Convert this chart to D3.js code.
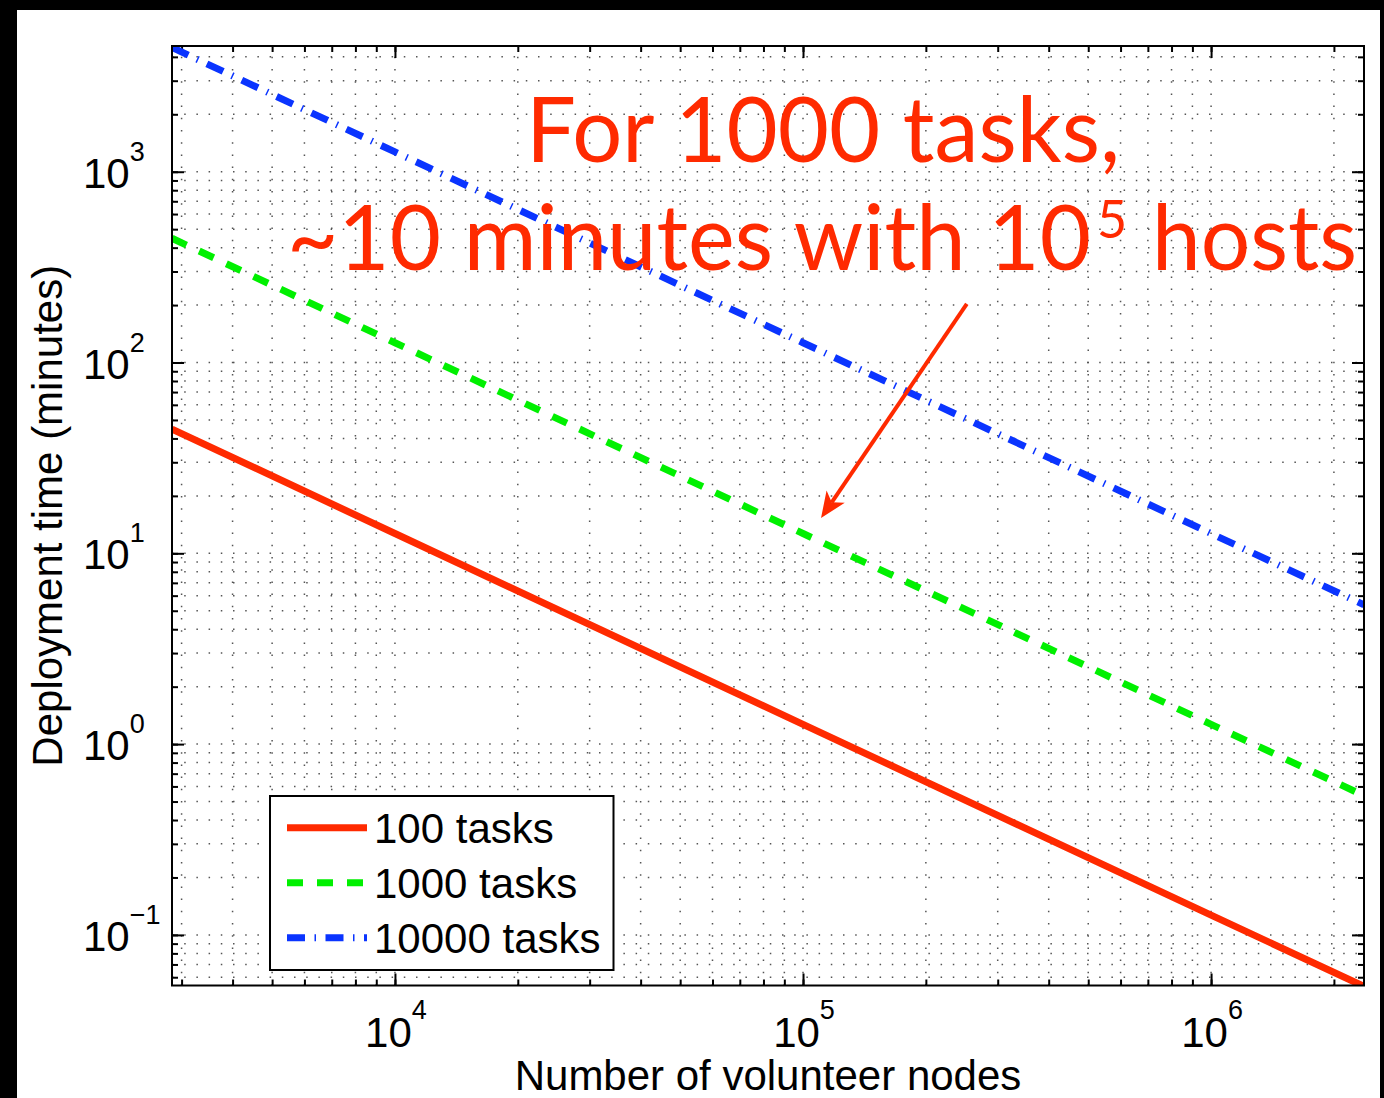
<!DOCTYPE html>
<html>
<head>
<meta charset="utf-8">
<script src="https://cdnjs.cloudflare.com/ajax/libs/d3/7.8.5/d3.min.js"></script>
<style>
  body { margin: 0; background: #000; }
  svg { display: block; }
</style>
</head>
<body>
<div id="vis"></div>
<script>
// values (deployment time in minutes vs number of nodes)
const nodes = [2842, 1e4, 1e5, 1e6, 2.37e6];
const tasks100 = [44.8, 12.7, 1.27, 0.127, 0.0537];
const tasks1000 = [448, 127, 12.7, 1.27, 0.537];
const tasks10000 = [4480, 1270, 127, 12.7, 5.37];
const seriesNames = ["100 tasks", "1000 tasks", "10000 tasks"];
const xTickExps = [4, 5, 6];
const yTickExps = [-1, 0, 1, 2, 3];
const xDomain = [2842, 2.37e6];
const yDomain = [0.0543, 4560];
// arrow annotation, in data units
const arrowFrom = [2.52e5, 203];
const arrowTo = [1.107e5, 15.3];

const W = 1384, H = 1098;
const plot = {left: 172, right: 1364, top: 46, bottom: 985.5};
const colors = ["#ff2a00", "#00f000", "#0a34ff"];
const dashes = [null, "16,14", "18,9.5,1.5,9.5"];
const red = "#ff2a00";
const font = "'Liberation Sans', Arial, Helvetica, sans-serif";

const svg = d3.select("#vis").append("svg")
    .attr("width", W)
    .attr("height", H);

// black surround, white figure
svg.append("rect").attr("width", W).attr("height", H).attr("fill", "#000");
svg.append("rect").attr("x", 17).attr("y", 10).attr("width", 1363).attr("height", H - 10).attr("fill", "#fff");

const x = d3.scaleLog().domain(xDomain).range([plot.left, plot.right]);
const y = d3.scaleLog().domain(yDomain).range([plot.bottom, plot.top]);

const xAll = x.ticks();
const yAll = y.ticks();
const xMajor = xTickExps.map(e => Math.pow(10, e));
const yMajor = yTickExps.map(e => Math.pow(10, e));

// dotted grid on every tick, major and minor
const grid = svg.append("g")
    .attr("stroke", "#555")
    .attr("stroke-width", 1.5)
    .attr("stroke-dasharray", "1.5,10.7");

grid.selectAll(".gx").data(xAll).join("line")
    .attr("x1", d => x(d)).attr("x2", d => x(d))
    .attr("y1", plot.bottom).attr("y2", plot.top);

grid.selectAll(".gy").data(yAll).join("line")
    .attr("x1", plot.left).attr("x2", plot.right)
    .attr("y1", d => y(d)).attr("y2", d => y(d));

// inward ticks on all four sides
function ticks(axis, values, size, tr) {
    svg.append("g")
        .attr("transform", tr)
        .call(axis.tickValues(values).tickSize(-size).tickFormat(""))
        .call(g => g.select(".domain").remove())
        .selectAll("line")
        .attr("stroke", "#000")
        .attr("stroke-width", 2);
}
ticks(d3.axisBottom(x), xAll, 6, `translate(0,${plot.bottom})`);
ticks(d3.axisBottom(x), xMajor, 12, `translate(0,${plot.bottom})`);
ticks(d3.axisTop(x), xAll, 6, `translate(0,${plot.top})`);
ticks(d3.axisTop(x), xMajor, 12, `translate(0,${plot.top})`);
ticks(d3.axisLeft(y), yAll, 6, `translate(${plot.left},0)`);
ticks(d3.axisLeft(y), yMajor, 12, `translate(${plot.left},0)`);
ticks(d3.axisRight(y), yAll, 6, `translate(${plot.right},0)`);
ticks(d3.axisRight(y), yMajor, 12, `translate(${plot.right},0)`);

// data lines
svg.append("clipPath").attr("id", "clip")
    .append("rect")
    .attr("x", plot.left).attr("y", plot.top)
    .attr("width", plot.right - plot.left).attr("height", plot.bottom - plot.top);

const series = [tasks100, tasks1000, tasks10000];
const line = d3.line().x(d => x(d[0])).y(d => y(d[1]));

series.forEach((vals, i) => {
    svg.append("path")
        .attr("clip-path", "url(#clip)")
        .attr("d", line(nodes.map((n, k) => [n, vals[k]])))
        .attr("fill", "none")
        .attr("stroke", colors[i])
        .attr("stroke-width", 7)
        .attr("stroke-dasharray", dashes[i])
        .attr("stroke-linecap", "butt");
});

// frame
svg.append("rect")
    .attr("x", plot.left).attr("y", plot.top)
    .attr("width", plot.right - plot.left).attr("height", plot.bottom - plot.top)
    .attr("fill", "none")
    .attr("stroke", "#000")
    .attr("stroke-width", 2);

// tick labels 10^n
const xl = svg.selectAll(".xl").data(xTickExps).join("text")
    .attr("x", d => x(Math.pow(10, d)) + 1)
    .attr("y", plot.bottom + 61.5)
    .attr("text-anchor", "middle")
    .attr("font-family", font)
    .attr("font-size", 42)
    .attr("fill", "#000");
xl.append("tspan").text("10");
xl.append("tspan").attr("dy", -28).attr("font-size", 27).text(d => d);

const yl = svg.selectAll(".yl").data(yTickExps).join("text")
    .attr("x", 83)
    .attr("y", d => y(Math.pow(10, d)) + 16)
    .attr("font-family", font)
    .attr("font-size", 42)
    .attr("fill", "#000");
yl.append("tspan").text("10");
yl.append("tspan").attr("dy", -27).attr("font-size", 27).text(d => d < 0 ? "\u2212" + (-d) : d);

// axis titles
svg.append("text")
    .attr("x", (plot.left + plot.right) / 2)
    .attr("y", 1090)
    .attr("text-anchor", "middle")
    .attr("font-family", font)
    .attr("font-size", 42)
    .text("Number of volunteer nodes");

svg.append("text")
    .attr("transform", `translate(62,${(plot.top + plot.bottom) / 2}) rotate(-90)`)
    .attr("text-anchor", "middle")
    .attr("font-family", font)
    .attr("font-size", 42)
    .text("Deployment time (minutes)");

// legend
const legend = svg.append("g").attr("transform", "translate(270,796)");
legend.append("rect")
    .attr("width", 343.5).attr("height", 174)
    .attr("fill", "#fff")
    .attr("stroke", "#000")
    .attr("stroke-width", 2);

seriesNames.forEach((name, i) => {
    const cy = 31.7 + i * 55;
    legend.append("line")
        .attr("x1", 17).attr("x2", 97)
        .attr("y1", cy).attr("y2", cy)
        .attr("stroke", colors[i])
        .attr("stroke-width", 7)
        .attr("stroke-dasharray", dashes[i]);
    legend.append("text")
        .attr("x", 104)
        .attr("y", cy + 15)
        .attr("font-family", font)
        .attr("font-size", 42)
        .text(name);
});

// red annotation
const note = svg.append("g")
    .attr("fill", red)
    .attr("font-family", "Lato, 'Open Sans', sans-serif")
    .attr("font-size", 92);

note.append("text")
    .attr("x", 526).attr("y", 162)
    .attr("textLength", 594).attr("lengthAdjust", "spacingAndGlyphs")
    .text("For 1000 tasks,");
note.append("text")
    .attr("x", 287).attr("y", 270)
    .attr("textLength", 804).attr("lengthAdjust", "spacingAndGlyphs")
    .text("~10 minutes with 10");
note.append("text")
    .attr("x", 1097).attr("y", 238)
    .attr("font-size", 52)
    .text("5");
note.append("text")
    .attr("x", 1152).attr("y", 270)
    .attr("textLength", 205).attr("lengthAdjust", "spacingAndGlyphs")
    .text("hosts");

// arrow
const p0 = [x(arrowFrom[0]), y(arrowFrom[1])];
const p1 = [x(arrowTo[0]), y(arrowTo[1])];
const len = Math.hypot(p1[0] - p0[0], p1[1] - p0[1]);
const ux = (p1[0] - p0[0]) / len, uy = (p1[1] - p0[1]) / len;
const headLen = 26, headHalf = 11, notch = 19;
const base = [p1[0] - ux * headLen, p1[1] - uy * headLen];

svg.append("line")
    .attr("x1", p0[0]).attr("y1", p0[1])
    .attr("x2", p1[0] - ux * notch).attr("y2", p1[1] - uy * notch)
    .attr("stroke", red)
    .attr("stroke-width", 4);

svg.append("path")
    .attr("d", d3.line()([
        p1,
        [base[0] - uy * headHalf, base[1] + ux * headHalf],
        [p1[0] - ux * notch, p1[1] - uy * notch],
        [base[0] + uy * headHalf, base[1] - ux * headHalf]
    ]) + "Z")
    .attr("fill", red);
</script>
</body>
</html>
